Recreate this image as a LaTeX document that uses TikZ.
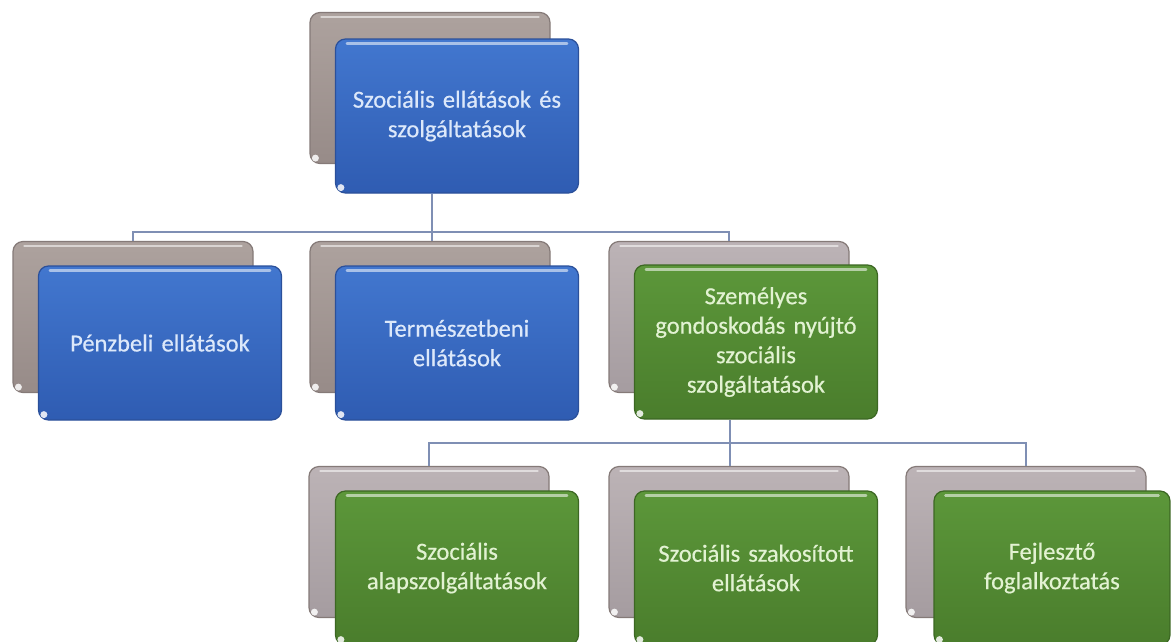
\documentclass[tikz,border=0pt]{standalone}
\usepackage{fontspec}
\setmainfont{Carlito}
\newfontfamily\boxfont{Carlito}[FakeBold=0.5]
\newcommand{\boxfontset}{\boxfont\fontsize{24.5}{29.5}\selectfont\setlength{\spaceskip}{0.19em plus 0.05em minus 0.02em}}
\usetikzlibrary{calc}
\definecolor{blueA}{HTML}{4277CF}
\definecolor{blueB}{HTML}{2F5CB2}
\definecolor{blueE}{HTML}{2B509A}
\definecolor{greenA}{HTML}{5C973A}
\definecolor{greenB}{HTML}{4A7D2C}
\definecolor{greenE}{HTML}{3C6723}
\definecolor{grayA}{HTML}{ADA29E}
\definecolor{grayB}{HTML}{978B88}
\definecolor{grayE}{HTML}{857A78}
\definecolor{grayC}{HTML}{BCB3B6}
\definecolor{grayD}{HTML}{A59CA0}
\definecolor{txtB}{HTML}{DCE8FA}
\definecolor{txtG}{HTML}{E2F2D2}
\definecolor{conn}{HTML}{7F8FB4}
\tikzset{
  boxbase/.style={rounded corners=10pt, line width=1.2pt, inner sep=4pt, align=center,
    font=\boxfontset},
  backbox/.style={boxbase, top color=grayA, bottom color=grayB, draw=grayE,
    minimum width=240pt, minimum height=151pt},
  backboxl/.style={boxbase, top color=grayC, bottom color=grayD, draw=grayE,
    minimum width=240pt, minimum height=151pt},
  bluebox/.style={boxbase, top color=blueA, bottom color=blueB, draw=blueE, text=txtB,
    minimum width=243pt, minimum height=154pt, text width=232pt},
  greenbox/.style={boxbase, top color=greenA, bottom color=greenB, draw=greenE, text=txtG,
    minimum width=243pt, minimum height=154pt, text width=232pt},
  hl/.style={white, opacity=0.55, line width=2.5pt, line cap=round},
  connector/.style={conn, line width=1.8pt}
}
\newcommand{\gloss}[1]{\draw[hl] ($(#1.north west)+(12,5)$) -- ($(#1.north east)+(-12,5)$);
  \fill[white, opacity=0.85] ($(#1.south west)+(6,-6)$) circle (3.5);}
\begin{document}
\begin{tikzpicture}[x=1pt,y=-1pt]
\useasboundingbox (0,0) rectangle (1171,641);
\fill[white] (0,0) rectangle (1171,641);

\coordinate (j1) at (432,232);
\coordinate (j2) at (730,443);

% top
\node[backbox] (g0) at (430,88) {};
\gloss{g0}
\node[bluebox] (b0) at (457,116) {Szociális ellátások és\\szolgáltatások};
\gloss{b0}

% level 2
\node[backbox] (g1) at (133,317) {};
\gloss{g1}
\node[bluebox] (b1) at (160,343) {Pénzbeli ellátások};
\gloss{b1}
\node[backbox] (g2) at (430,317) {};
\gloss{g2}
\node[bluebox] (b2) at (457,343) {Természetbeni\\ellátások};
\gloss{b2}
\node[backboxl] (g3) at (729,317) {};
\gloss{g3}
\node[greenbox] (c3) at (756,342) {Személyes\\gondoskodás nyújtó\\szociális\\szolgáltatások};
\gloss{c3}

% level 3
\node[backboxl] (g4) at (429,542) {};
\gloss{g4}
\node[greenbox] (c4) at (457,568) {Szociális\\alapszolgáltatások};
\gloss{c4}
\node[backboxl] (g5) at (729,542) {};
\gloss{g5}
\node[greenbox] (c5) at (756,568) {Szociális szakosított\\ellátások};
\gloss{c5}
\node[backboxl] (g6) at (1026,542) {};
\gloss{g6}
\node[greenbox, minimum width=236pt, text width=226pt] (c6) at (1052,568) {Fejlesztő\\foglalkoztatás};
\gloss{c6}

% connector lines
\draw[connector] (b0.south -| j1) -- (j1);
\draw[connector] (g1.north) |- (j1) -| (g3.north);
\draw[connector] (j1) -- (g2.north -| j1);
\draw[connector] (c3.south -| j2) -- (j2);
\draw[connector] (g4.north) |- (j2) -| (g6.north);
\draw[connector] (j2) -- (g5.north -| j2);
\end{tikzpicture}
\end{document}
